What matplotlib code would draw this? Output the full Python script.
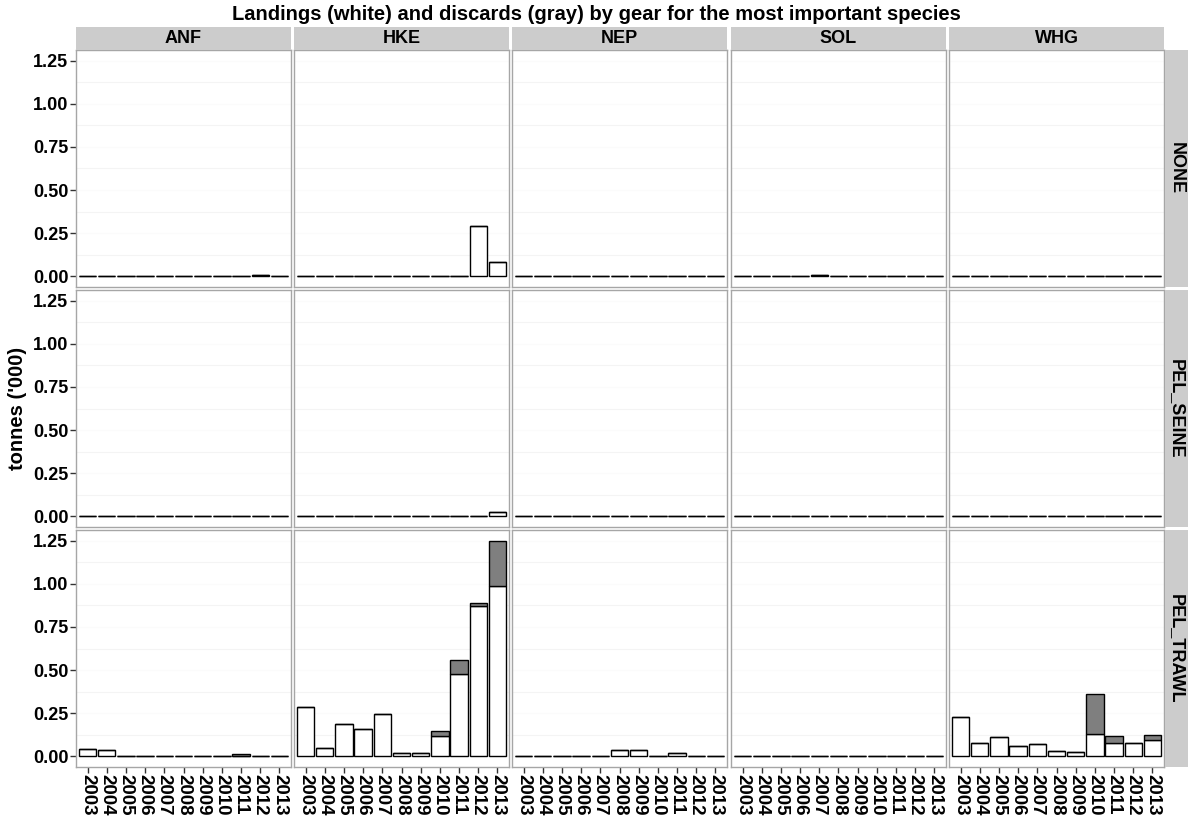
import matplotlib
matplotlib.use("Agg")
import matplotlib.pyplot as plt
import numpy as np

plt.rcParams['font.family'] = ['Liberation Sans', 'DejaVu Sans']

species = ["ANF", "HKE", "NEP", "SOL", "WHG"]
gears = ["NONE", "PEL_SEINE", "PEL_TRAWL"]
years = [2003, 2004, 2005, 2006, 2007, 2008, 2009, 2010, 2011, 2012, 2013]
ytick_vals = [0.00, 0.25, 0.50, 0.75, 1.00, 1.25]
ytick_labels = ["0.00", "0.25", "0.50", "0.75", "1.00", "1.25"]

# landings ('000 t), rows = species ANF, HKE, NEP, SOL, WHG
landings_NONE = [
    [0, 0, 0, 0.004, 0, 0, 0, 0, 0, 0.005, 0],
    [0, 0, 0, 0.003, 0.003, 0, 0, 0, 0, 0.289, 0.083],
    [0, 0, 0, 0, 0, 0, 0, 0, 0, 0, 0],
    [0, 0, 0, 0, 0.005, 0, 0, 0, 0, 0, 0],
    [0, 0, 0, 0, 0, 0, 0, 0, 0, 0, 0],
]
discards_NONE = [
    [0, 0, 0, 0, 0, 0, 0, 0, 0, 0, 0],
    [0, 0, 0, 0, 0, 0, 0, 0, 0, 0, 0],
    [0, 0, 0, 0, 0, 0, 0, 0, 0, 0, 0],
    [0, 0, 0, 0, 0, 0, 0, 0, 0, 0, 0],
    [0, 0, 0, 0, 0, 0, 0, 0, 0, 0, 0],
]
landings_PEL_SEINE = [
    [0, 0, 0, 0, 0, 0, 0, 0, 0, 0, 0],
    [0, 0, 0, 0, 0, 0, 0, 0, 0.003, 0, 0.025],
    [0, 0, 0, 0, 0, 0, 0, 0, 0, 0, 0],
    [0, 0, 0, 0, 0, 0, 0, 0, 0, 0, 0],
    [0, 0, 0, 0, 0, 0, 0, 0, 0, 0, 0],
]
discards_PEL_SEINE = [
    [0, 0, 0, 0, 0, 0, 0, 0, 0, 0, 0],
    [0, 0, 0, 0, 0, 0, 0, 0, 0, 0, 0],
    [0, 0, 0, 0, 0, 0, 0, 0, 0, 0, 0],
    [0, 0, 0, 0, 0, 0, 0, 0, 0, 0, 0],
    [0, 0, 0, 0, 0, 0, 0, 0, 0, 0, 0],
]
landings_PEL_TRAWL = [
    [0.043, 0.039, 0.001, 0.001, 0.002, 0.002, 0.003, 0.004, 0.003, 0.001, 0.001],
    [0.285, 0.050, 0.186, 0.159, 0.244, 0.017, 0.017, 0.118, 0.475, 0.874, 0.986],
    [0.004, 0.001, 0.001, 0.001, 0.002, 0.035, 0.035, 0.002, 0.017, 0.004, 0.001],
    [0.003, 0.001, 0.001, 0.001, 0.001, 0.003, 0.003, 0.001, 0.003, 0.001, 0.001],
    [0.227, 0.079, 0.112, 0.060, 0.070, 0.029, 0.025, 0.128, 0.076, 0.078, 0.097],
]
discards_PEL_TRAWL = [
    [0, 0, 0, 0, 0, 0, 0, 0, 0.008, 0, 0],
    [0, 0, 0, 0, 0, 0, 0, 0.031, 0.083, 0.016, 0.262],
    [0, 0, 0, 0, 0, 0, 0, 0, 0, 0, 0],
    [0, 0, 0, 0, 0, 0, 0, 0, 0, 0, 0],
    [0, 0, 0, 0, 0, 0, 0, 0.231, 0.042, 0, 0.025],
]

landings = {"NONE": landings_NONE, "PEL_SEINE": landings_PEL_SEINE, "PEL_TRAWL": landings_PEL_TRAWL}
discards = {"NONE": discards_NONE, "PEL_SEINE": discards_PEL_SEINE, "PEL_TRAWL": discards_PEL_TRAWL}

W, H = 1188, 821
fig = plt.figure(figsize=(W / 100, H / 100), dpi=100)

col_left = [76, 294, 512, 731, 949]
pw = 215
row_top = [50, 290, 530]
ph = 237
strip_top = 27
strip_h = 23
rstrip_x = 1165
rstrip_w = 23

def fx(x):
    return x / W

def fy(y):
    return 1 - y / H

x = np.arange(len(years))
border_col = "#A6A6A6"
for r, g in enumerate(gears):
    for c, sp in enumerate(species):
        ax = fig.add_axes([fx(col_left[c]), fy(row_top[r] + ph), pw / W, ph / H])
        L = np.array(landings[g][c])
        D = np.array(discards[g][c])
        for yv in [0.125, 0.375, 0.625, 0.875, 1.125]:
            ax.axhline(yv, color="#F4F4F4", lw=0.8, zorder=0)
        for yv in ytick_vals:
            ax.axhline(yv, color="#FBFBFB", lw=0.8, zorder=0)
        ax.bar(x, L, width=0.9, color="white", edgecolor="black", linewidth=1.0, zorder=2)
        ax.bar(x, D, bottom=L, width=0.9, color="#7F7F7F", edgecolor="black", linewidth=1.0, zorder=2)
        ax.set_xlim(-0.6, len(years) - 0.4)
        ax.set_ylim(-0.0625, 1.3125)
        for s in ax.spines.values():
            s.set_color(border_col)
            s.set_linewidth(1.0)
        ax.set_yticks(ytick_vals)
        ax.set_xticks(x)
        ax.tick_params(axis="both", length=4, color="#333333", width=1.0)
        if c == 0:
            ax.set_yticklabels(ytick_labels, fontsize=13, fontweight="bold")
        else:
            ax.tick_params(axis="y", length=0, labelleft=False)
        if r == len(gears) - 1:
            ax.set_xticklabels([str(y) for y in years], rotation=-90, fontsize=13.5,
                               fontweight="bold")
        else:
            ax.tick_params(axis="x", length=0, labelbottom=False)
        ax.tick_params(axis="x", pad=1)
        ax.tick_params(axis="y", pad=1.5)

        if r == 0:
            sax = fig.add_axes([fx(col_left[c]), fy(strip_top + strip_h), pw / W, strip_h / H])
            sax.set_facecolor("#CCCCCC")
            sax.set_xticks([]); sax.set_yticks([])
            for s in sax.spines.values():
                s.set_visible(False)
            sax.text(0.5, 0.5, sp, ha="center", va="center", fontsize=13,
                     fontweight="bold", transform=sax.transAxes)
    rax = fig.add_axes([fx(rstrip_x), fy(row_top[r] + ph), rstrip_w / W, ph / H])
    rax.set_facecolor("#CCCCCC")
    rax.set_xticks([]); rax.set_yticks([])
    for s in rax.spines.values():
        s.set_visible(False)
    rax.text(0.5, 0.5, g, ha="center", va="center", rotation=-90, fontsize=13,
             fontweight="bold", transform=rax.transAxes)

fig.text(fx(596), fy(14), "Landings (white) and discards (gray) by gear for the most important species",
         ha="center", va="center", fontsize=14.5, fontweight="bold")
fig.text(fx(18), fy(408), "tonnes ('000)", ha="center", va="center", rotation=90,
         fontsize=14.5, fontweight="bold")

fig.savefig("out.png", dpi=100)
